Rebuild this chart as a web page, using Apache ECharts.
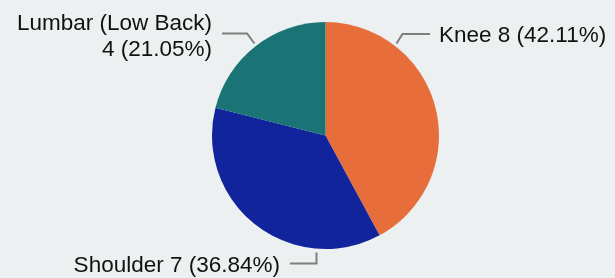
<!DOCTYPE html>
<html>
<head>
<meta charset="utf-8">
<script src="https://cdn.jsdelivr.net/npm/echarts@6/dist/echarts.min.js"></script>
<style>
html,body{margin:0;padding:0;background:#ecf0f1;}
#c{width:615px;height:278px;}
</style>
</head>
<body>
<div id="c"></div>
<script>
const categories = ['Knee', 'Shoulder', 'Lumbar (Low Back)'];
const values = [8, 7, 4];
const colors = ['#e76e3a', '#12249b', '#1a7374'];

const CX = 325.5, CY = 135.5, R = 113.5;
// label line geometry relative to pie center
const lineGeom = [
  { p: [[71, -92], [77, -101.5], [104.5, -101.5]], align: 'left', tx: 113.5, ty: -99.5 },
  { p: [[-9, 117], [-9, 128], [-35.5, 128]], align: 'right', tx: -45.5, ty: 130 },
  { p: [[-71, -92], [-78.5, -102], [-103.5, -102]], align: 'right', tx: -113.5, ty: -99 }
];

const chart = echarts.init(document.getElementById('c'), null, { renderer: 'canvas' });
chart.setOption({
  backgroundColor: '#ecf0f1',
  animation: false,
  series: [{
    type: 'pie',
    center: [CX, CY],
    radius: R,
    startAngle: 90,
    clockwise: true,
    data: categories.map((n, i) => ({
      name: n,
      value: values[i],
      itemStyle: { color: colors[i] }
    })),
    label: {
      show: true,
      overflow: 'none',
      width: 300,
      formatter: function (p) {
        const pct = p.percent.toFixed(2);
        if (p.name.length > 12) return p.name + '\n' + p.value + ' (' + pct + '%)';
        return p.name + ' ' + p.value + ' (' + pct + '%)';
      },
      fontFamily: 'Liberation Sans, Arial, sans-serif',
      fontSize: 22.5,
      lineHeight: 26,
      color: '#111'
    },
    labelLine: {
      show: true,
      lineStyle: { color: '#7f7f7f', width: 2 }
    },
    labelLayout: function (params) {
      const g = lineGeom[params.dataIndex];
      return {
        x: CX + g.tx,
        y: CY + g.ty,
        align: g.align,
        verticalAlign: 'middle',
        labelLinePoints: g.p.map(q => [CX + q[0], CY + q[1]])
      };
    },
    emphasis: { disabled: true }
  }]
});
</script>
</body>
</html>
